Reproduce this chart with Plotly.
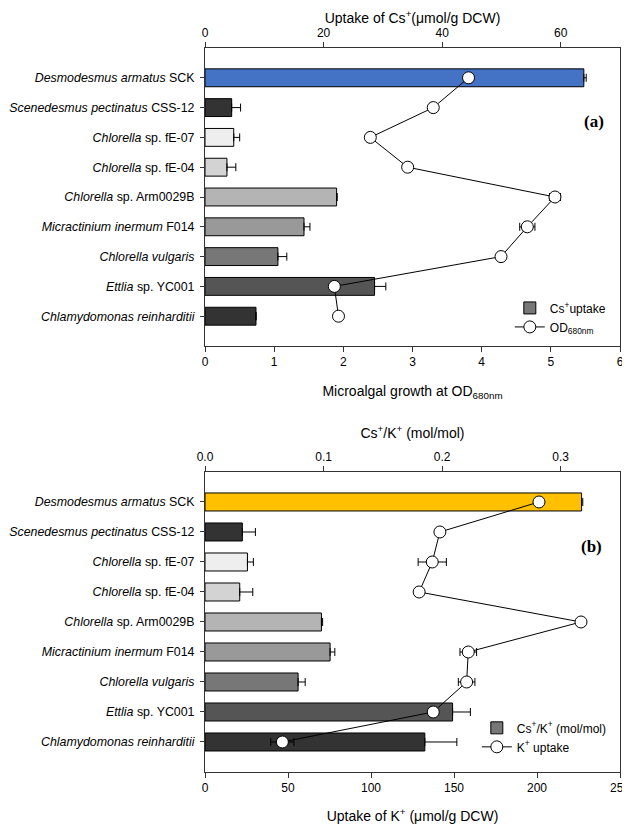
import plotly.graph_objects as go

strains = [
    "<i>Desmodesmus armatus</i> SCK",
    "<i>Scenedesmus pectinatus</i> CSS-12",
    "<i>Chlorella</i> sp. fE-07",
    "<i>Chlorella</i> sp. fE-04",
    "<i>Chlorella</i> sp. Arm0029B",
    "<i>Micractinium inermum</i> F014",
    "<i>Chlorella vulgaris</i>",
    "<i>Ettlia</i> sp. YC001",
    "<i>Chlamydomonas reinharditii</i>",
]
colors_a = ["#4472C4", "#333333", "#EEEEEE", "#D3D3D3", "#B4B4B4",
            "#999999", "#777777", "#555555", "#333333"]
colors_b = ["#FFC000"] + colors_a[1:]

# panel (a)
cs_uptake = [63.9, 4.5, 4.85, 3.7, 22.2, 16.7, 12.3, 28.6, 8.6]
cs_err = [0.4, 1.5, 1.0, 1.5, 0.1, 1.0, 1.5, 1.9, 0.0]
od680 = [3.81, 3.30, 2.39, 2.93, 5.06, 4.66, 4.28, 1.87, 1.93]
od_err = [0.03, 0.03, 0.03, 0.03, 0.08, 0.11, 0.03, 0.03, 0.03]

# panel (b)
cs_k_ratio = [0.3176, 0.0315, 0.0358, 0.0293, 0.0982, 0.1055, 0.0785, 0.2088, 0.1854]
cs_k_err = [0.001, 0.011, 0.005, 0.011, 0.001, 0.004, 0.006, 0.015, 0.027]
k_uptake = [201.2, 141.5, 136.9, 129.0, 226.5, 158.6, 157.6, 137.5, 46.6]
k_err = [2, 2, 8.5, 2, 2, 5, 5, 2, 7]

FONT = "Liberation Sans, Arial, sans-serif"

fig = go.Figure()


def add_panel(xb, xl, ya, vals, errs, colors, line_vals, line_errs, bar_name, line_name, legend):
    fig.add_trace(go.Bar(
        x=vals, y=strains, orientation="h", xaxis=xb, yaxis=ya, width=0.6,
        marker=dict(color=colors, line=dict(color="black", width=1)),
        error_x=dict(type="data", array=errs, arrayminus=[0] * len(errs), symmetric=False,
                     color="black", thickness=1, width=4),
        showlegend=False,
    ))
    # legend-only swatch
    fig.add_trace(go.Bar(
        x=[None], y=[None], orientation="h", xaxis=xb, yaxis=ya, name=bar_name,
        marker=dict(color="#777777", line=dict(color="black", width=1)), legend=legend,
    ))
    fig.add_trace(go.Scatter(
        x=line_vals, y=strains, xaxis=xl, yaxis=ya, mode="lines+markers", name=line_name,
        line=dict(color="black", width=1),
        marker=dict(size=12, color="white", line=dict(color="black", width=1)),
        error_x=dict(type="data", array=line_errs, color="black", thickness=1, width=4),
        legend=legend,
    ))


add_panel("x", "x2", "y", cs_uptake, cs_err, colors_a, od680, od_err,
          "Cs<sup>+</sup>uptake", "OD<sub>680nm</sub>", "legend")
add_panel("x3", "x4", "y2", cs_k_ratio, cs_k_err, colors_b, k_uptake, k_err,
          "Cs<sup>+</sup>/K<sup>+</sup> (mol/mol)", "K<sup>+</sup> uptake", "legend2")

ax_common = dict(showline=True, linecolor="#333333", linewidth=1, ticks="outside",
                 ticklen=5, tickcolor="#333333", showgrid=False, zeroline=False,
                 automargin=False, ticklabeloverflow="allow",
                 tickfont=dict(family=FONT, size=12, color="black"))
title_font = dict(family=FONT, size=14, color="black")

y_common = dict(ax_common, range=[9, -1], mirror=True, ticklen=4, ticklabelstandoff=3,
                tickfont=dict(family=FONT, size=12.4, color="black"))

# the page body adds an 8px offset, so the figure is a bit smaller than the window
fig.update_layout(
    width=622, height=816,
    margin=dict(l=197, r=10, t=40, b=52),
    plot_bgcolor="white", paper_bgcolor="white",
    barmode="overlay",
    xaxis=dict(ax_common, side="top", range=[0, 70], dtick=20, anchor="y",
               title=dict(text="Uptake of Cs<sup>+</sup>(μmol/g DCW)", font=title_font, standoff=10)),
    xaxis2=dict(ax_common, side="bottom", range=[0, 6], dtick=1, anchor="y", overlaying="x",
                title=dict(text="Microalgal growth at OD<sub>680nm</sub>", font=title_font, standoff=17)),
    yaxis=dict(y_common, domain=[0.5884, 1.0], anchor="x"),
    xaxis3=dict(ax_common, side="top", range=[0, 0.35], dtick=0.1, tickformat=".1f", anchor="y2",
                title=dict(text="Cs<sup>+</sup>/K<sup>+</sup> (mol/mol)", font=title_font, standoff=8)),
    xaxis4=dict(ax_common, side="bottom", range=[0, 250], dtick=50, anchor="y2", overlaying="x3",
                title=dict(text="Uptake of K<sup>+</sup> (μmol/g DCW)", font=title_font, standoff=16)),
    yaxis2=dict(y_common, domain=[0.0, 0.4144], anchor="x3"),
    legend=dict(x=0.7345, y=0.661, xanchor="left", yanchor="top", bgcolor="rgba(0,0,0,0)",
                font=dict(family=FONT, size=12, color="black"), tracegroupgap=0),
    legend2=dict(x=0.655, y=0.081, xanchor="left", yanchor="top", bgcolor="rgba(0,0,0,0)",
                 font=dict(family=FONT, size=12, color="black"), tracegroupgap=0),
    annotations=[
        dict(text="<b>(a)</b>", xref="paper", yref="paper", x=0.966, y=0.915, showarrow=False,
             font=dict(family="Liberation Serif, Times New Roman, serif", size=17, color="black")),
        dict(text="<b>(b)</b>", xref="paper", yref="paper", x=0.961, y=0.296, showarrow=False,
             font=dict(family="Liberation Serif, Times New Roman, serif", size=17, color="black")),
    ],
)

fig.write_html("out.html")
